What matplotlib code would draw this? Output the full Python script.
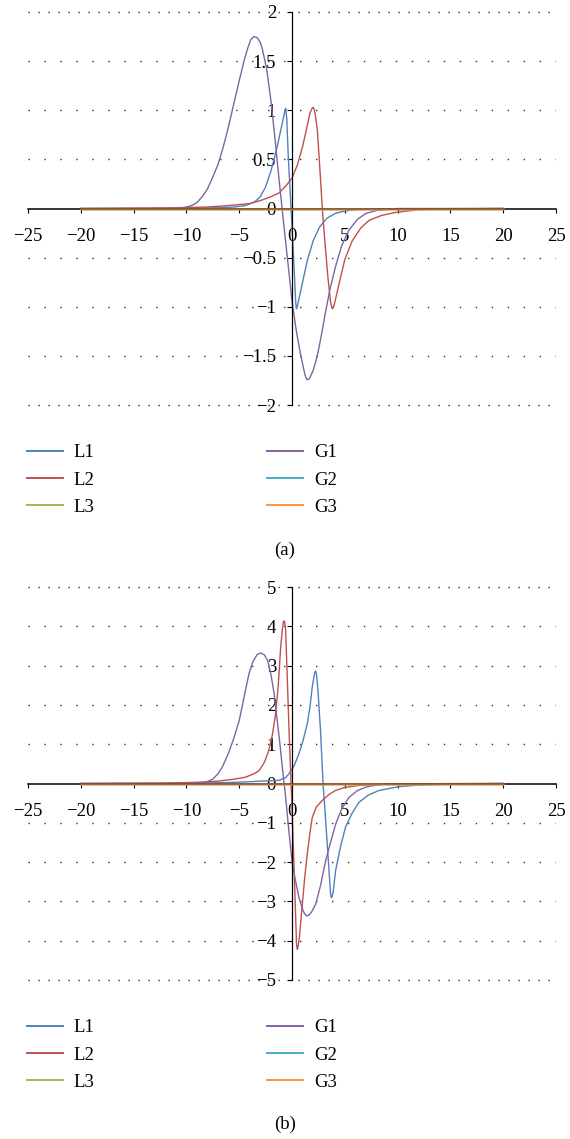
import matplotlib
matplotlib.use("Agg")
import matplotlib.pyplot as plt
from matplotlib.lines import Line2D

plt.rcParams['font.family'] = ['Liberation Serif', 'DejaVu Serif']

# colours of the six series
colors = {'L1': '#4F81BD', 'L2': '#C0504D', 'L3': '#9BBB59',
          'G1': '#8064A2', 'G2': '#4BACC6', 'G3': '#F79646'}

x_ticks = [-25, -20, -15, -10, -5, 0, 5, 10, 15, 20, 25]
y_ticks_a = [-2, -1.5, -1, -0.5, 0, 0.5, 1, 1.5, 2]
y_ticks_b = [-5, -4, -3, -2, -1, 0, 1, 2, 3, 4, 5]

# ---- panel (a), values ----
x_L1a = [-20, -10, -7, -5.5, -4.4, -3.5, -3.0, -2.5, -2.0, -1.6, -1.3, -1.0, -0.8, -0.68, -0.6,
         -0.5, -0.35, -0.1, 0.15, 0.35, 0.41, 0.47, 0.6, 0.9, 1.2, 1.5, 2.0, 2.6, 3.3, 4.1, 5.0,
         6.0, 8.0, 20]
y_L1a = [0, 0.003, 0.008, 0.015, 0.03, 0.07, 0.12, 0.22, 0.38, 0.54, 0.68, 0.83, 0.93, 0.99, 1.02,
         0.92, 0.52, 0.02, -0.5, -0.95, -1.02, -1.01, -0.95, -0.8, -0.65, -0.51, -0.33, -0.19,
         -0.1, -0.05, -0.025, -0.012, -0.004, 0]

x_L2a = [-20, -12, -8, -6, -4, -3, -2, -1.2, -0.5, 0, 0.5, 1.0, 1.4, 1.7, 1.85, 1.99, 2.1, 2.2,
         2.4, 2.7, 2.87, 3.1, 3.4, 3.65, 3.75, 3.82, 3.9, 4.0, 4.45, 5.0, 5.7, 6.5, 7.3, 8.5, 9.8,
         12, 15, 20]
y_L2a = [0, 0.005, 0.015, 0.03, 0.05, 0.08, 0.12, 0.16, 0.24, 0.31, 0.44, 0.63, 0.82, 0.97,
         1.01, 1.03, 1.01, 0.96, 0.80, 0.30, 0.0, -0.32, -0.70, -0.95, -1.0, -1.02, -1.01, -0.98,
         -0.77, -0.52, -0.33, -0.2, -0.12, -0.07, -0.04, -0.012, -0.004, 0]

x_G1a = [-20, -12, -10.5, -10, -9.5, -9, -8.5, -8, -7.5, -7, -6.5, -6, -5.5, -5, -4.5, -4.2,
         -3.9, -3.6, -3.3, -3.0, -2.8, -2.4, -2.0, -1.6, -1.2, -0.8, -0.4, 0, 0.4, 0.8, 1.1,
         1.25, 1.4, 1.55, 1.7, 2.0, 2.4, 2.8, 3.2, 3.6, 4.1, 4.7, 5.4, 6.2, 7.0, 8.0, 9.0, 10, 20]
y_G1a = [0, 0, 0.005, 0.015, 0.03, 0.06, 0.12, 0.2, 0.32, 0.45, 0.63, 0.84, 1.07, 1.30, 1.52,
         1.63, 1.72, 1.75, 1.74, 1.69, 1.62, 1.42, 1.10, 0.70, 0.27, -0.14, -0.54, -0.94, -1.24,
         -1.48, -1.63, -1.70, -1.74, -1.74, -1.72, -1.65, -1.50, -1.28, -1.04, -0.82, -0.60,
         -0.38, -0.22, -0.11, -0.05, -0.02, -0.008, 0, 0]

# ---- panel (b) ----
x_L1b = [-20, -12, -8, -6, -4.4, -3, -2, -1.23, -0.6, -0.28, 0.2, 0.66, 1.0, 1.45, 1.7, 1.92,
         2.1, 2.18, 2.24, 2.32, 2.45, 2.7, 2.94, 3.19, 3.5, 3.65, 3.72, 3.8, 3.9, 4.14, 4.6,
         5.08, 5.7, 6.34, 7.2, 8.2, 10.1, 12, 15, 20]
y_L1b = [0, 0.005, 0.015, 0.025, 0.04, 0.06, 0.07, 0.08, 0.15, 0.25, 0.45, 0.76, 1.05, 1.52,
         1.95, 2.46, 2.75, 2.84, 2.86, 2.78, 2.4, 1.35, 0.0, -0.94, -2.2, -2.8, -2.9, -2.88,
         -2.75, -2.2, -1.6, -1.1, -0.75, -0.48, -0.3, -0.18, -0.08, -0.04, -0.015, 0]

x_L2b = [-20, -12, -9, -7, -5.5, -4.4, -3.5, -3.1, -2.6, -2.2, -1.85, -1.55, -1.3, -1.07, -0.9,
         -0.82, -0.76, -0.68, -0.6, -0.28, 0.0, 0.25, 0.43, 0.5, 0.58, 0.7, 0.98, 1.2, 1.45, 1.7,
         1.92, 2.3, 2.87, 3.5, 4.1, 5.0, 6.3, 8, 10, 14, 20]
y_L2b = [0, 0.01, 0.03, 0.06, 0.11, 0.16, 0.26, 0.33, 0.55, 0.84, 1.25, 1.78, 2.5, 3.48, 3.95,
         4.1, 4.14, 4.08, 3.9, 1.35, -0.6, -2.6, -4.1, -4.22, -4.15, -3.9, -3.07, -2.4, -1.79,
         -1.25, -0.86, -0.6, -0.43, -0.28, -0.18, -0.1, -0.05, -0.025, -0.012, -0.004, 0]

x_G1b = [-20, -12, -10, -9, -8.2, -7.5, -7, -6.6, -6, -5.5, -5, -4.5, -4.07, -3.7, -3.3, -2.97,
         -2.6, -2.3, -2.0, -1.7, -1.4, -1.2, -0.92, -0.6, -0.3, 0.03, 0.35, 0.66, 1.0, 1.2, 1.39,
         1.6, 1.85, 2.24, 2.7, 3.19, 3.7, 4.14, 4.7, 5.4, 6.2, 7, 8, 9.5, 20]
y_G1b = [0, 0, 0.003, 0.01, 0.03, 0.11, 0.25, 0.42, 0.78, 1.16, 1.6, 2.25, 2.8, 3.1, 3.28, 3.32,
         3.27, 3.12, 2.78, 2.3, 1.6, 1.15, 0.42, -0.35, -1.2, -2.05, -2.5, -2.9, -3.2, -3.32,
         -3.37, -3.35, -3.27, -3.07, -2.6, -1.96, -1.45, -1.03, -0.65, -0.35, -0.18, -0.09,
         -0.04, -0.01, 0]

# L3, G2, G3 stay at zero over the whole range in both panels
x_flat = [-20, 0, 20]
y_flat = [0, 0, 0]

panels = [
    {'L1': (x_L1a, y_L1a), 'L2': (x_L2a, y_L2a), 'L3': (x_flat, y_flat),
     'G1': (x_G1a, y_G1a), 'G2': (x_flat, y_flat), 'G3': (x_flat, y_flat)},
    {'L1': (x_L1b, y_L1b), 'L2': (x_L2b, y_L2b), 'L3': (x_flat, y_flat),
     'G1': (x_G1b, y_G1b), 'G2': (x_flat, y_flat), 'G3': (x_flat, y_flat)},
]
names = ['L1', 'L2', 'L3', 'G1', 'G2', 'G3']

W, H = 570, 1139
fig = plt.figure(figsize=(W / 100, H / 100), dpi=100)

ax_a = fig.add_axes([28 / W, 1 - 405 / H, 528 / W, 393 / H])
ax_b = fig.add_axes([28 / W, 1 - 980 / H, 528 / W, 393 / H])

for ax, data, yt in [(ax_a, panels[0], y_ticks_a), (ax_b, panels[1], y_ticks_b)]:
    ax.set_xlim(-25, 25)
    ax.set_ylim(yt[0], yt[-1])
    # dotted grid, finer at the outer edges
    inner = [v for v in yt if v not in (0, yt[0], yt[-1])]
    ax.hlines(inner, -25, 25, colors='#333333', linewidth=1.0,
              linestyles=[(0, (1, 10.5))], zorder=1)
    ax.hlines([yt[0], yt[-1]], -25, 25, colors='#333333', linewidth=1.0,
              linestyles=[(0, (1, 6.2))], zorder=1, clip_on=False)
    for n in names:
        xs, ys = data[n]
        if n == 'G3':
            ax.plot(xs, ys, color=colors[n], lw=1.8, alpha=0.62, zorder=3)
        else:
            ax.plot(xs, ys, color=colors[n], lw=1.0)
    for s in ['top', 'right']:
        ax.spines[s].set_visible(False)
    ax.spines['left'].set_position(('data', 0))
    ax.spines['bottom'].set_position(('data', 0))
    ax.spines['left'].set_linewidth(0.9)
    ax.spines['bottom'].set_linewidth(1.1)
    ax.set_xticks(x_ticks)
    ax.set_yticks(yt)
    ax.set_yticklabels([('%g' % v).replace('-', '\u2212') for v in yt])
    ax.tick_params(axis='x', direction='out', length=3, width=0.8, pad=11, labelsize=13.5)
    ax.tick_params(axis='y', direction='out', length=3.5, width=0.8, pad=8, labelsize=13.5)

handles = [Line2D([], [], color=colors[n], lw=1.4) for n in names]
for top in [1 - 444 / H, 1 - 1019 / H]:
    fig.legend(handles, names, ncol=2, loc='upper left', bbox_to_anchor=(27 / W, top),
               frameon=False, fontsize=13.5, handlelength=1.9, handletextpad=0.6,
               columnspacing=9.2, labelspacing=0.55, borderpad=0, borderaxespad=0)

fig.text(285 / W, 1 - 550 / H, '(a)', ha='center', va='center', fontsize=13.5)
fig.text(285 / W, 1 - 1124 / H, '(b)', ha='center', va='center', fontsize=13.5)

fig.savefig('out.png', dpi=100)
